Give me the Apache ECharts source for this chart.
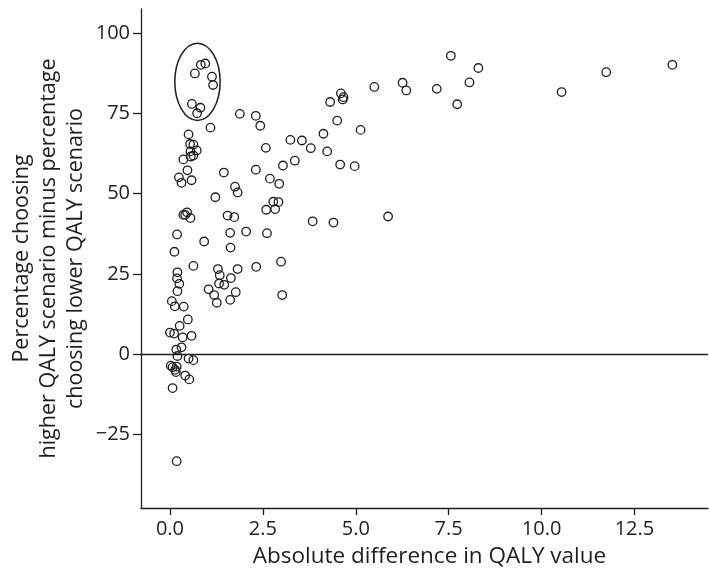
<!DOCTYPE html>
<html>
<head>
<meta charset="utf-8">
<script src="https://cdn.jsdelivr.net/npm/echarts@6/dist/echarts.min.js"></script>
<style>
html,body{margin:0;padding:0;background:#fff;}
#chart{width:709px;height:571px;}
</style>
</head>
<body>
<div id="chart"></div>
<script>
// Absolute difference in QALY value
const qalyDiff = [
  0.67, 0.83, 0.95, 1.13, 1.16, 0.59, 0.82, 0.73,
  1.09, 1.88, 2.31, 2.43, 0.50, 0.54, 0.63, 0.72, 0.55, 0.63, 0.56, 0.36,
  0.47, 0.24, 0.31, 0.58, 2.58, 3.24, 3.55, 3.79, 4.13, 4.23, 4.31, 3.04,
  3.36, 2.31, 2.69, 2.94, 1.45, 1.75, 1.82, 1.22, 0.46, 0.36, 0.41, 0.55,
  1.55, 1.73, 2.59, 2.78, 2.92, 2.83, 3.84, 4.40, 0.19, 1.62, 2.05, 2.61,
  0.92, 1.63, 0.12, 0.63, 2.99, 1.29, 1.82, 2.32, 1.34, 0.20, 0.19, 0.25,
  0.20, 1.64, 1.32, 1.46, 1.04, 1.19, 1.26, 1.77, 1.62, 3.02, 0.05, 0.13,
  0.37, 0.48, 0.26, 0.00, 0.11, 0.34, 0.58, 0.31, 0.17, 0.20, 0.50, 0.63,
  0.02, 0.07, 0.18, 0.14, 0.16, 0.41, 0.52, 0.07, 0.18,
  7.56, 8.30, 8.06, 7.73, 7.18, 6.26, 6.36, 5.50, 4.60, 4.67, 4.65, 4.50,
  5.13, 4.58, 4.97, 10.54, 11.74, 13.52, 5.87
];
// Percentage choosing higher QALY scenario minus percentage choosing lower QALY scenario
const pctDiff = [
  87.5, 90.2, 90.6, 86.5, 83.9, 78.0, 76.8, 75.1,
  70.6, 74.9, 74.3, 71.2, 68.5, 65.5, 65.3, 63.5, 63.2, 61.9, 61.6, 60.7,
  57.3, 55.1, 53.4, 54.2, 64.3, 66.8, 66.6, 64.2, 68.7, 63.2, 78.6, 58.8,
  60.3, 57.5, 54.7, 53.1, 56.6, 52.2, 50.4, 48.9, 44.2, 43.4, 43.4, 42.4,
  43.2, 42.7, 45.0, 47.5, 47.4, 45.2, 41.4, 41.0, 37.3, 37.8, 38.2, 37.7,
  35.1, 33.2, 31.9, 27.5, 28.8, 26.5, 26.5, 27.2, 24.6, 25.5, 23.6, 21.9,
  19.6, 23.7, 22.0, 21.6, 20.2, 18.4, 16.0, 19.3, 16.9, 18.4, 16.5, 14.9,
  14.8, 10.8, 8.8, 6.7, 6.4, 5.2, 5.7, 2.1, 1.4, -0.6, -1.4, -1.9,
  -3.6, -4.1, -3.9, -4.9, -5.6, -6.7, -7.9, -10.6, -33.4,
  93.0, 89.2, 84.7, 77.9, 82.7, 84.6, 82.2, 83.3, 81.3, 80.1, 79.4, 72.8,
  69.9, 59.1, 58.6, 81.7, 87.9, 90.2, 42.9
];
const xTicks = [0, 2.5, 5, 7.5, 10, 12.5];
const yTicks = [-25, 0, 25, 50, 75, 100];
// highlighted cluster: [centre x, centre y, radius x, radius y] in data units
const clusterEllipse = [0.74, 84.9, 0.61, 12.05];

const points = qalyDiff.map((x, i) => [x, pctDiff[i]]);
const FONT = 'Open Sans';
const INK = '#1e1e1e';

const chart = echarts.init(document.getElementById('chart'), null, {renderer: 'canvas'});
chart.setOption({
  animation: false,
  backgroundColor: '#fff',
  grid: {left: 141, right: 1, top: 9, bottom: 63, containLabel: false, outerBoundsMode: 'none'},
  xAxis: {
    type: 'value', min: -0.78, max: 14.48,
    name: 'Absolute difference in QALY value',
    nameLocation: 'middle', nameGap: 37, nameMoveOverlap: false,
    nameTextStyle: {fontFamily: FONT, fontSize: 22.5, color: INK, padding: [0, 0, 0, 10]},
    axisLine: {onZero: false, lineStyle: {color: INK, width: 1.3}},
    axisTick: {show: true, length: 7, customValues: xTicks, lineStyle: {color: INK, width: 1.3}},
    axisLabel: {customValues: xTicks, margin: 11, fontFamily: FONT, fontSize: 20, color: INK,
      formatter: v => v.toFixed(1)},
    splitLine: {show: false}
  },
  yAxis: {
    type: 'value', min: -48, max: 107.6,
    name: 'Percentage choosing\nhigher QALY scenario minus percentage\nchoosing lower QALY scenario',
    nameLocation: 'middle', nameRotate: 90, nameGap: 52, nameMoveOverlap: false,
    nameTextStyle: {fontFamily: FONT, fontSize: 21.5, color: INK, lineHeight: 27, align: 'center'},
    axisLine: {onZero: false, lineStyle: {color: INK, width: 1.3}},
    axisTick: {show: true, length: 8, customValues: yTicks, lineStyle: {color: INK, width: 1.3}},
    axisLabel: {customValues: yTicks, margin: 11, fontFamily: FONT, fontSize: 20, color: INK,
      formatter: v => v < 0 ? '\u2212' + Math.abs(v) : String(v)},
    splitLine: {show: false}
  },
  series: [{
    type: 'scatter',
    data: points,
    symbol: 'circle',
    symbolSize: 8.5,
    itemStyle: {color: 'rgba(0,0,0,0)', borderColor: INK, borderWidth: 1.3, opacity: 1},
    emphasis: {disabled: true},
    markLine: {
      silent: true, symbol: ['none', 'none'],
      label: {show: false},
      lineStyle: {color: INK, width: 1.3, type: 'solid'},
      data: [{yAxis: 0}]
    }
  }]
});

function drawEllipse() {
  const c = chart.convertToPixel({gridIndex: 0}, [clusterEllipse[0], clusterEllipse[1]]);
  const e = chart.convertToPixel({gridIndex: 0}, [clusterEllipse[0] + clusterEllipse[2], clusterEllipse[1] + clusterEllipse[3]]);
  chart.setOption({
    graphic: [{
      type: 'ellipse', id: 'cluster', silent: true, z: 10,
      shape: {cx: c[0], cy: c[1], rx: Math.abs(e[0] - c[0]), ry: Math.abs(e[1] - c[1])},
      style: {fill: 'none', stroke: INK, lineWidth: 1.5}
    }]
  });
}
drawEllipse();
</script>
</body>
</html>
